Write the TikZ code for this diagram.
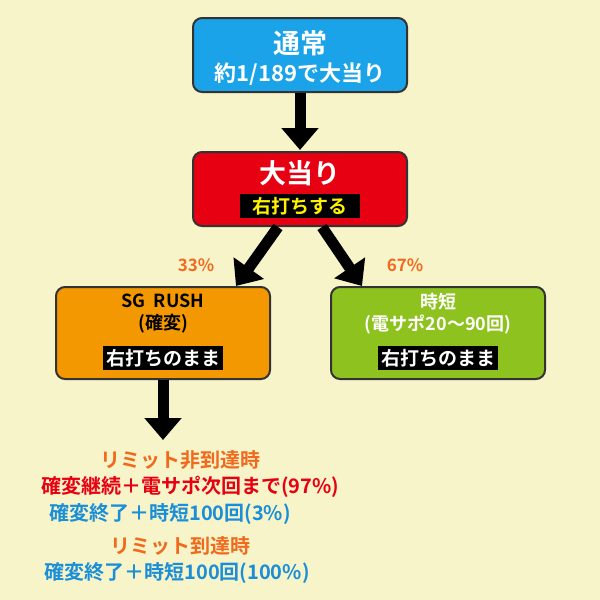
\documentclass[tikz,border=0pt]{standalone}
\usepackage{fontspec}
\setmainfont{Noto Sans CJK JP}[BoldFont={* Bold}]
\usetikzlibrary{arrows.meta,positioning}
\definecolor{bgyellow}{HTML}{F8F4C9}
\definecolor{normalblue}{HTML}{1AA3E8}
\definecolor{hitred}{HTML}{E60012}
\definecolor{rushorange}{HTML}{F39800}
\definecolor{jitangreen}{HTML}{8DC21F}
\definecolor{pctorange}{HTML}{F06A1E}
\definecolor{txtblue}{HTML}{1A8FD8}
\tikzset{
  state/.style={draw=black!80,line width=2pt,rounded corners=9pt,minimum width=214pt,minimum height=74pt},
  tag/.style={fill=black,inner sep=3pt,font=\bfseries\fontsize{19}{19}\selectfont},
  flow/.style={line width=11pt,-{Triangle[length=22pt,width=36pt]}},
  note/.style={font=\bfseries\fontsize{20}{20}\selectfont}
}
\begin{document}
\begin{tikzpicture}[x=1pt,y=-1pt]
  \useasboundingbox (0,0) rectangle (600,600);
  \fill[bgyellow] (0,0) rectangle (600,600);
  % boxes
  \node[state,fill=normalblue] (normal) at (300,55) {};
  \node[font=\bfseries\fontsize{27}{27}\selectfont,white] at (300,43) {通常};
  \node[font=\bfseries\fontsize{22}{22}\selectfont,white] at (300,74) {約1/189で大当り};
  \node[state,fill=hitred] (hit) at (300,189) {};
  \node[font=\bfseries\fontsize{27}{27}\selectfont,white] at (300,173) {大当り};
  \node[tag,text=yellow,minimum width=120pt] at (300,206) {右打ちする};
  \node[state,fill=rushorange,minimum height=92pt] (rush) at (163,333) {};
  \node[font=\bfseries\fontsize{18}{22}\selectfont,align=center] at (163,314) {SG\ \ RUSH\\(確変)};
  \node[tag,text=white] at (163,358) {右打ちのまま};
  \node[state,fill=jitangreen,minimum height=92pt] (jitan) at (438,333) {};
  \node[font=\bfseries\fontsize{18}{22}\selectfont,align=center,white] at (438,314) {時短\\(電サポ20〜90回)};
  \node[tag,text=white] at (438,358) {右打ちのまま};
  % arrows
  \draw[flow] (normal.south) -- (300,150);
  \draw[flow] (hit.south) ++(-22,0) -- (236,286);
  \draw[flow] (hit.south) ++(22,0) -- (362,286);
  \draw[flow] (rush.south) -- (163,440);
  \node[note,text=pctorange,font=\bfseries\fontsize{17}{17}\selectfont] at (196,265) {33\%};
  \node[note,text=pctorange,font=\bfseries\fontsize{17}{17}\selectfont] at (405,265) {67\%};
  % results
  \node[note,text=pctorange] at (180,460) {リミット非到達時};
  \node[note,text=hitred] at (190,487) {確変継続＋電サポ次回まで(97\%)};
  \node[note,text=txtblue] at (170,514) {確変終了＋時短100回(3\%)};
  \node[note,text=pctorange] at (180,546) {リミット到達時};
  \node[note,text=txtblue] at (177,573) {確変終了＋時短100回(100\%)};
\end{tikzpicture}
\end{document}
